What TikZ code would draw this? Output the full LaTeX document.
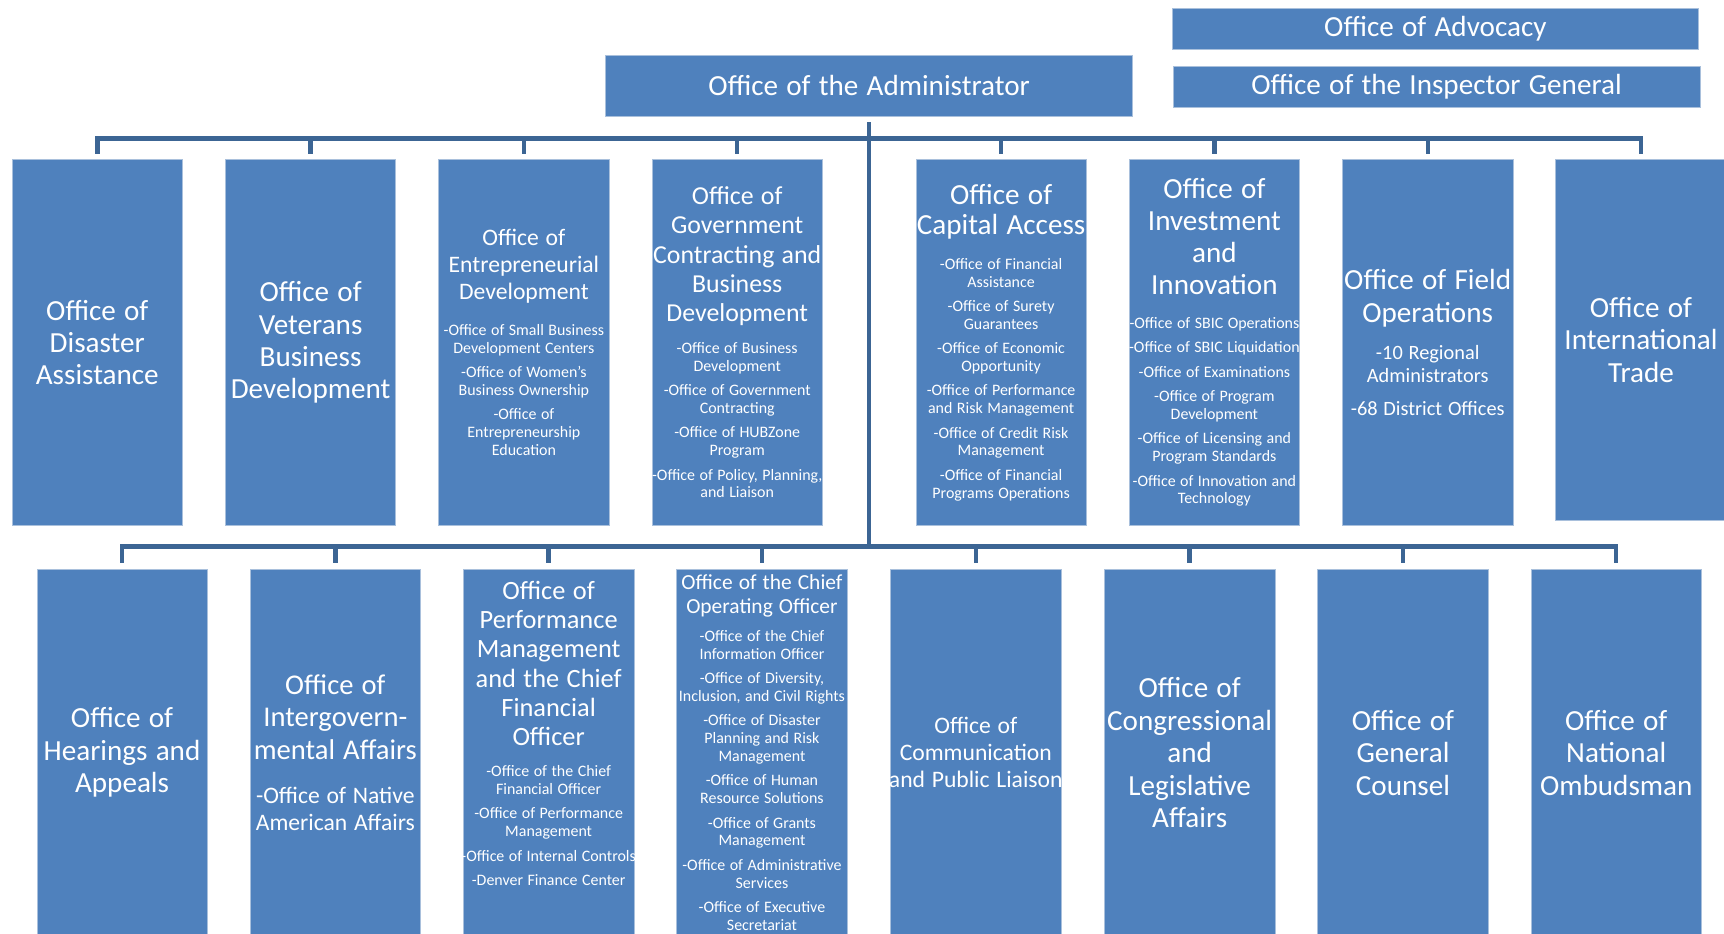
\documentclass[tikz,border=0pt]{standalone}
\usepackage{fontspec}
\setmainfont{Carlito}[WordSpace=1.25]
\definecolor{cBox}{HTML}{4F81BD}
\definecolor{cWire}{HTML}{3C6594}
\definecolor{cRim}{HTML}{A9C0DC}
\newcommand\hdtext[3]{{\fontsize{#1}{#2}\selectfont #3\par}}
\newcommand\subtext[2][6]{\vspace{#1pt}{\fontsize{14.5}{16.2}\selectfont #2\par}}

\begin{document}
\begin{tikzpicture}[
 x=1pt,y=-1pt,line cap=butt,line join=miter,
 unit/.style={fill=cBox,draw=cRim,line width=.6pt,text=white,align=flush center,
   text width=185pt,inner xsep=-15pt,inner ysep=0pt,
   minimum width=155pt,minimum height=333pt,font=\fontsize{26.5}{29.5}\selectfont},
 top/.style={fill=cBox,draw=cRim,line width=.6pt,text=white,
   minimum width=479pt,font=\fontsize{26.5}{30}\selectfont},
 wire/.style={draw=cWire,line width=4pt}]
\path[use as bounding box] (0,0) rectangle (1568,849);
\clip (0,0) rectangle (1568,849);

% top level
\node[top,minimum height=56pt] (adm) at (790.5,78) {Office of the Administrator};
\node[top,minimum height=37pt] (adv) at (1305.5,26.5) {Office of Advocacy};
\node[top,minimum height=37pt] (oig) at (1306.5,79) {Office of the Inspector General};

% first row
\node[unit] (dis) at (88.5,311.5) {Office of\\Disaster\\Assistance};
\node[unit] (vet) at (282.5,311.5) {Office of\\Veterans\\Business\\Development};
\node[unit] (ent) at (476.5,311.5) {%
  \hdtext{21.5}{24.5}{Office of\\Entrepreneurial\\Development}
  \subtext[16]{-Office of Small Business\\Development Centers}
  \subtext{-Office of Women's\\Business Ownership}
  \subtext{-Office of\\Entrepreneurship\\Education}};
\node[unit] (gov) at (670.5,311.5) {%
  \hdtext{23.5}{26.5}{Office of\\Government\\Contracting and\\Business\\Development}
  \subtext[13]{-Office of Business\\Development}
  \subtext{-Office of Government\\Contracting}
  \subtext{-Office of HUBZone\\Program}
  \subtext{-Office of Policy, Planning,\\and Liaison}};
\node[unit] (cap) at (910.5,311.5) {%
  \hdtext{26.5}{28}{Office of\\Capital Access}
  \subtext[15]{-Office of Financial\\Assistance}
  \subtext{-Office of Surety\\Guarantees}
  \subtext{-Office of Economic\\Opportunity}
  \subtext{-Office of Performance\\and Risk Management}
  \subtext{-Office of Credit Risk\\Management}
  \subtext{-Office of Financial\\Programs Operations}};
\node[unit] (inv) at (1104.5,311.5) {%
  \hdtext{26.5}{29}{Office of\\Investment\\and\\Innovation}
  \subtext[15]{-Office of SBIC Operations}
  \subtext{-Office of SBIC Liquidation}
  \subtext{-Office of Examinations}
  \subtext{-Office of Program\\Development}
  \subtext{-Office of Licensing and\\Program Standards}
  \subtext{-Office of Innovation and\\Technology}};
\node[unit] (fld) at (1298.5,311.5) {%
  \hdtext{26.5}{30}{Office of Field\\Operations}
  \vspace{13pt}\hdtext{18.5}{21}{-10 Regional\\Administrators}
  \vspace{9pt}\hdtext{18.5}{21}{-68 District Offices}};
\node[unit,minimum height=328pt] (intl) at (1492.5,309) {Office of\\International\\Trade};

% second row
\node[unit] (hear) at (111,684.5) {Office of\\Hearings and\\Appeals};
\node[unit] (igov) at (305,684.5) {%
  \hdtext{26}{29.5}{Office of\\Intergovern-\\mental Affairs}
  \vspace{15pt}\hdtext{21.5}{25}{-Office of Native\\American Affairs}};
\node[unit] (pfm) at (499,684.5) {%
  \hdtext{24}{26.6}{Office of\\Performance\\Management\\and the Chief\\Financial\\Officer}
  \subtext[12]{-Office of the Chief\\Financial Officer}
  \subtext{-Office of Performance\\Management}
  \subtext{-Office of Internal Controls}
  \subtext{-Denver Finance Center}
  \vspace{35pt}};
\node[unit] (coo) at (693,684.5) {%
  \hdtext{19.5}{22}{Office of the Chief\\Operating Officer}
  \subtext[9]{-Office of the Chief\\Information Officer}
  \subtext{-Office of Diversity,\\Inclusion, and Civil Rights}
  \subtext{-Office of Disaster\\Planning and Risk\\Management}
  \subtext{-Office of Human\\Resource Solutions}
  \subtext{-Office of Grants\\Management}
  \subtext{-Office of Administrative\\Services}
  \subtext{-Office of Executive\\Secretariat}};
\node[unit] (com) at (887.5,684.5) {%
  \hdtext{21.5}{24.5}{Office of\\Communication\\and Public Liaison}};
\node[unit] (cong) at (1082,684.5) {Office of\\Congressional\\and\\Legislative\\Affairs};
\node[unit] (gc) at (1276,684.5) {Office of\\General\\Counsel};
\node[unit] (omb) at (1470,684.5) {Office of\\National\\Ombudsman};

% connectors
\coordinate (busA) at (0,126);
\coordinate (busB) at (0,497);
\foreach \n in {dis,vet,ent,gov,cap,inv,fld,intl}
  \draw[wire,shorten <=5pt,shorten >=5pt] (adm.south) -- (adm.south |- busA) -| (\n.north);
\draw[wire,shorten <=5pt] (adm.south) -- (adm.south |- busB);
\foreach \n in {hear,igov,pfm,coo,com,cong,gc,omb}
  \draw[wire,shorten >=6pt] (adm.south |- busB) -| (\n.north);
\end{tikzpicture}
\end{document}
